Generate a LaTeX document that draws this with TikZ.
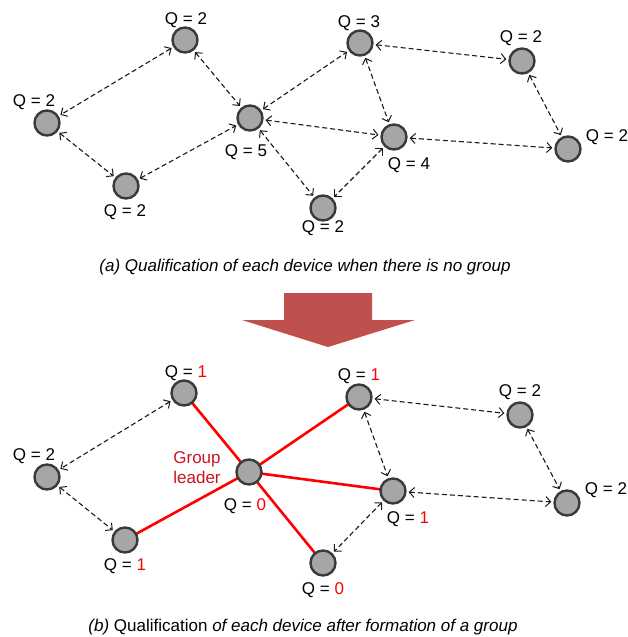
\documentclass[tikz,border=0pt]{standalone}
\usepackage{fontspec}
\setmainfont{Liberation Sans}
\usetikzlibrary{arrows.meta}
\definecolor{nodefill}{HTML}{A6A6A6}
\definecolor{nodeline}{HTML}{3A3A3A}
\definecolor{arrowred}{HTML}{C0504D}
\definecolor{linkred}{HTML}{FF0000}
\definecolor{leaderred}{RGB}{200,20,30}
\begin{document}
\begin{tikzpicture}[x=1pt,y=-1pt,
  dev/.style={circle,draw=nodeline,fill=nodefill,line width=2.4pt,minimum size=25pt,inner sep=0pt},
  qlab/.style={font=\fontsize{17}{20}\selectfont,inner sep=0pt},
  caplab/.style={font=\fontsize{17}{20}\selectfont,inner sep=0pt},
  link/.style={draw=black!90,line width=1.1pt,dash pattern=on 5pt off 3pt,
    {Straight Barb[length=5pt,width=10pt,line width=1pt]}-{Straight Barb[length=5pt,width=10pt,line width=1pt]},
    shorten <=2pt,shorten >=2pt},
  grp/.style={draw=linkred,line width=2.6pt},
  bigarrow/.style={fill=arrowred,draw=none}
]
\useasboundingbox (0,0) rectangle (628,637);

% ---------- (a) ----------
\node[dev] (a1) at (185,40) {};
\node[dev] (b1) at (47,123) {};
\node[dev] (c1) at (126,186) {};
\node[dev] (d1) at (250,118) {};
\node[dev] (e1) at (360,43) {};
\node[dev] (f1) at (522,61) {};
\node[dev] (g1) at (394,137) {};
\node[dev] (h1) at (568,149) {};
\node[dev] (i1) at (323,208) {};

\node[qlab] (la1) at (186,20) {Q = 2};
\node[qlab] (lb1) at (34,102) {Q = 2};
\node[qlab] (lc1) at (125,212) {Q = 2};
\node[qlab] (ld1) at (246,152) {Q = 5};
\node[qlab] (le1) at (359,23) {Q = 3};
\node[qlab] (lf1) at (521,38) {Q = 2};
\node[qlab] (lg1) at (409,165) {Q = 4};
\node[qlab] (lh1) at (607,137) {Q = 2};
\node[qlab] (li1) at (323,228) {Q = 2};

\draw[link] (a1) -- (b1);
\draw[link] (a1) -- (d1);
\draw[link] (b1) -- (c1);
\draw[link] (c1) -- (d1);
\draw[link] (d1) -- (e1);
\draw[link] (d1) -- (g1);
\draw[link] (d1) -- (i1);
\draw[link] (e1) -- (g1);
\draw[link] (e1) -- (f1);
\draw[link] (f1) -- (h1);
\draw[link] (g1) -- (h1);
\draw[link] (g1) -- (i1);

\node[caplab] (capa) at (305,267) {\textit{(a) Qualification of each device when there is no group}};

% ---------- big arrow ----------
\path[bigarrow] (284,293) -- (372,293) -- (372,320) -- (415,320) -- (328,347) -- (242,320) -- (284,320) -- cycle;

% ---------- (b) ----------
\draw[grp] (249,472) -- (184,393);
\draw[grp] (249,472) -- (125,540);
\draw[grp] (249,472) -- (359,397);
\draw[grp] (249,472) -- (393,491);
\draw[grp] (249,472) -- (323,563);

\node[dev] (a2) at (184,393) {};
\node[dev] (b2) at (47,477) {};
\node[dev] (c2) at (125,540) {};
\node[dev] (d2) at (249,472) {};
\node[dev] (e2) at (359,397) {};
\node[dev] (f2) at (520,415) {};
\node[dev] (g2) at (393,491) {};
\node[dev] (h2) at (567,503) {};
\node[dev] (i2) at (323,563) {};

\node[qlab] (la2) at (186,373) {Q = \textcolor{linkred}{1}};
\node[qlab] (lb2) at (34,456) {Q = 2};
\node[qlab] (lc2) at (125,566) {Q = \textcolor{linkred}{1}};
\node[qlab] (ld2) at (245,506) {Q = \textcolor{linkred}{0}};
\node[qlab] (le2) at (359,376) {Q = \textcolor{linkred}{1}};
\node[qlab] (lf2) at (520,392) {Q = 2};
\node[qlab] (lg2) at (408,519) {Q = \textcolor{linkred}{1}};
\node[qlab] (lh2) at (606,490) {Q = 2};
\node[qlab] (li2) at (323,590) {Q = \textcolor{linkred}{0}};

\node[qlab,text=leaderred,align=center] (leader) at (197,468) {Group\\leader};

\draw[link] (a2) -- (b2);
\draw[link] (b2) -- (c2);
\draw[link] (e2) -- (f2);
\draw[link] (e2) -- (g2);
\draw[link] (f2) -- (h2);
\draw[link] (g2) -- (h2);
\draw[link] (g2) -- (i2);

\node[caplab] (capb) at (303,627) {\textit{(b)} Qualification \textit{of each device after formation of a group}};
\end{tikzpicture}
\end{document}
